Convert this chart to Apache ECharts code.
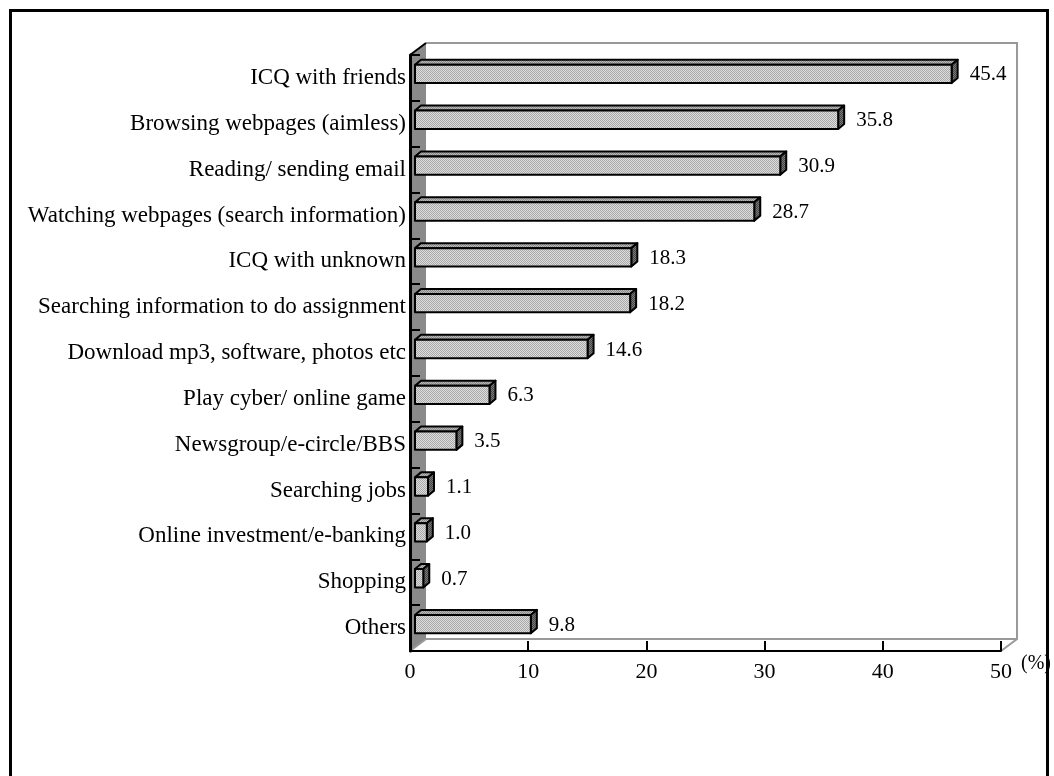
<!DOCTYPE html>
<html>
<head>
<meta charset="utf-8">
<script src="https://cdn.jsdelivr.net/npm/echarts@6/dist/echarts.min.js"></script>
<style>
  html, body { margin: 0; padding: 0; background: #fff; }
  #chart { width: 1054px; height: 776px; }
</style>
</head>
<body>
<div id="chart"></div>
<script>
// Online activities of respondents (%)
const categories = [
  'ICQ with friends',
  'Browsing webpages (aimless)',
  'Reading/ sending email',
  'Watching webpages (search information)',
  'ICQ with unknown',
  'Searching information to do assignment',
  'Download mp3, software, photos etc',
  'Play cyber/ online game',
  'Newsgroup/e-circle/BBS',
  'Searching jobs',
  'Online investment/e-banking',
  'Shopping',
  'Others'
];
const values = [45.4, 35.8, 30.9, 28.7, 18.3, 18.2, 14.6, 6.3, 3.5, 1.1, 1.0, 0.7, 9.8];
const axisMin = 0;
const axisMax = 50;
const axisStep = 10;
const unitLabel = '(%)';

const FONT = '"Liberation Serif", "DejaVu Serif", serif';

// pseudo-3D depth of the plot box and of the bars (pixels)
const WALL_DX = 16, WALL_DY = -12;
const BAR_OX = 5, BAR_OY = -4;     // bar front plane offset from the front of the box
const BAR_DX = 6, BAR_DY = -5;     // bar thickness in depth
const BAR_RATIO = 0.40;            // bar height as share of the band

// dithered fills like an old print pattern
function dither(c1, c2) {
  const cv = document.createElement('canvas');
  cv.width = 2; cv.height = 2;
  const g = cv.getContext('2d');
  g.fillStyle = c1; g.fillRect(0, 0, 2, 2);
  g.fillStyle = c2; g.fillRect(0, 0, 1, 1); g.fillRect(1, 1, 1, 1);
  return { image: cv, repeat: 'repeat' };
}
const frontFill = dither('#dcdcdc', '#aaaaaa');
const topFill = dither('#b8b8b8', '#8a8a8a');
const sideFill = dither('#7a7a7a', '#444444');

const chart = echarts.init(document.getElementById('chart'), null, { renderer: 'canvas' });

function renderBox(params, api) {
  const cs = params.coordSys;
  const x0 = cs.x, y0 = cs.y, x1 = cs.x + cs.width, y1 = cs.y + cs.height;
  const dx = WALL_DX, dy = WALL_DY;
  return {
    type: 'group',
    children: [
      // back wall
      { type: 'polygon', shape: { points: [[x0 + dx, y0 + dy], [x1 + dx, y0 + dy], [x1 + dx, y1 + dy], [x0 + dx, y1 + dy]] },
        style: { fill: '#fff', stroke: null } },
      { type: 'polyline', shape: { points: [[x0 + dx, y0 + dy], [x1 + dx, y0 + dy], [x1 + dx, y1 + dy], [x1, y1]] },
        style: { fill: null, stroke: '#999', lineWidth: 2 } },
      // floor back edge
      { type: 'line', shape: { x1: x0 + dx, y1: y1 + dy, x2: x1 + dx, y2: y1 + dy },
        style: { stroke: '#999', lineWidth: 2 } },
      // left side wall
      { type: 'polygon', shape: { points: [[x0, y0], [x0 + dx, y0 + dy], [x0 + dx, y1 + dy], [x0, y1]] },
        style: { fill: '#8a8a8a', stroke: null } },
      { type: 'line', shape: { x1: x0, y1: y0, x2: x0 + dx, y2: y0 + dy },
        style: { stroke: '#000', lineWidth: 2 } },
      { type: 'line', shape: { x1: x0, y1: y1, x2: x0 + dx, y2: y1 + dy },
        style: { stroke: '#999', lineWidth: 2 } }
    ]
  };
}

function renderBar(params, api) {
  const v = api.value(0);
  const idx = api.value(1);
  const start = api.coord([axisMin, idx]);
  const end = api.coord([v, idx]);
  const band = api.size([0, 1])[1];
  const h = band * BAR_RATIO;
  const xa = start[0] + BAR_OX;
  const xb = end[0] + BAR_OX;
  const ya = end[1] + BAR_OY - h / 2;
  const yb = ya + h;
  const dx = BAR_DX, dy = BAR_DY;
  const edge = { stroke: '#000', lineWidth: 2, lineJoin: 'round' };
  return {
    type: 'group',
    children: [
      { type: 'polygon', shape: { points: [[xa, ya], [xb, ya], [xb + dx, ya + dy], [xa + dx, ya + dy]] },
        style: Object.assign({ fill: topFill }, edge) },
      { type: 'polygon', shape: { points: [[xb, ya], [xb + dx, ya + dy], [xb + dx, yb + dy], [xb, yb]] },
        style: Object.assign({ fill: sideFill }, edge) },
      { type: 'rect', shape: { x: xa, y: ya, width: xb - xa, height: h },
        style: Object.assign({ fill: frontFill }, edge) },
      { type: 'text',
        style: { text: v.toFixed(1), x: xb + dx + 12, y: end[1] - 3,
                 font: '21px ' + FONT, fill: '#000', verticalAlign: 'middle', align: 'left' } }
    ]
  };
}

chart.setOption({
  animation: false,
  backgroundColor: '#fff',
  graphic: [{
    type: 'rect', left: 8, top: 8, z: 100,
    shape: { x: 0, y: 0, width: 1037, height: 800 },
    style: { fill: null, stroke: '#000', lineWidth: 3 },
    silent: true
  }],
  grid: { left: 410, right: 49, top: 55, bottom: 125, containLabel: false },
  xAxis: {
    type: 'value', min: axisMin, max: axisMax, interval: axisStep, z: 10,
    axisLine: { show: true, lineStyle: { color: '#000', width: 2 } },
    axisTick: { show: true, inside: true, length: 10, lineStyle: { color: '#000', width: 2 } },
    splitLine: { show: false },
    axisLabel: { color: '#000', fontFamily: FONT, fontSize: 22, margin: 10 },
    name: unitLabel, nameLocation: 'end', nameGap: 20,
    nameTextStyle: { color: '#000', fontFamily: FONT, fontSize: 20, verticalAlign: 'top', padding: [3, 0, 0, 0] }
  },
  yAxis: {
    type: 'category', data: categories, inverse: true, z: 10,
    axisLine: { show: true, lineStyle: { color: '#000', width: 3 } },
    axisTick: { show: true, inside: true, length: 10, lineStyle: { color: '#000', width: 2 } },
    axisLabel: { color: '#000', fontFamily: FONT, fontSize: 23, margin: 4 }
  },
  series: [
    { type: 'custom', z: 1, silent: true, renderItem: renderBox, data: [[0, 0]] },
    { type: 'custom', z: 3, renderItem: renderBar,
      encode: { x: 0, y: 1 },
      data: values.map((v, i) => [v, i]) }
  ]
});
</script>
</body>
</html>
